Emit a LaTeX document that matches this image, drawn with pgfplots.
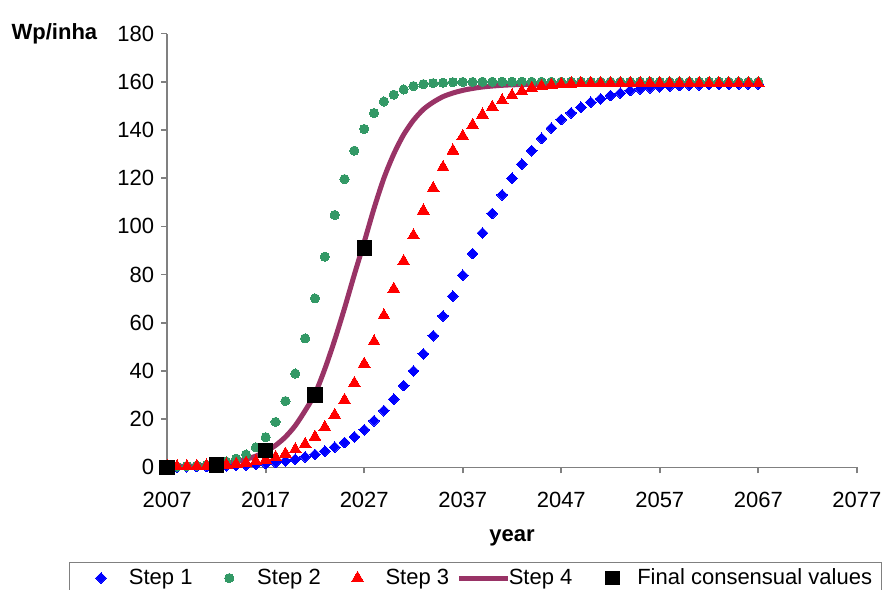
\documentclass[border=0pt]{standalone}
\usepackage{fontspec}
\setmainfont{Liberation Sans}
\usepackage{pgfplots}
\usepackage{pgfplotstable}
\pgfplotsset{compat=1.18}
\definecolor{sone}{RGB}{0,0,255}
\definecolor{stwo}{RGB}{51,153,102}
\definecolor{sthree}{RGB}{255,0,0}
\definecolor{sfour}{RGB}{153,51,102}
\definecolor{axgray}{RGB}{128,128,128}

\pgfplotstableread{
year s1 s2 s3 s4
2007 0.16 0.2 0.23 0.21
2008 0.2 0.3 0.3 0.29
2009 0.25 0.45 0.4 0.41
2010 0.32 0.7 0.5 0.59
2011 0.4 1.0 0.65 0.83
2012 0.5 1.6 0.85 1.18
2013 0.65 2.4 1.1 1.66
2014 0.8 3.6 1.4 2.35
2015 1.0 5.3 1.85 3.3
2016 1.3 8.3 2.4 4.66
2017 1.6 12.5 3.1 6.54
2018 2.05 18.8 4.2 9.1
2019 2.6 27.5 5.6 12.6
2020 3.3 38.9 7.4 17.3
2021 4.3 53.5 9.6 23.5
2022 5.3 70.1 12.6 30.5
2023 6.7 87.4 16.6 40.8
2024 8.4 104.7 21.7 52.8
2025 10.3 119.6 27.9 66.0
2026 12.6 131.4 34.9 80.0
2027 15.6 140.4 42.9 93.5
2028 19.3 147.0 52.2 107.5
2029 23.5 151.8 63.0 120
2030 28.3 154.6 74.0 130
2031 33.9 156.8 85.5 138
2032 40.0 158.2 96.2 144
2033 47.1 159.0 106.5 148.5
2034 54.6 159.4 115.8 151.5
2035 62.8 159.6 124.5 153.8
2036 71.0 159.8 131.4 155.3
2037 79.7 159.9 137.4 156.4
2038 88.7 159.9 142.0 157.2
2039 97.2 160 146.3 157.8
2040 105.3 160 149.5 158.2
2041 113.0 160 152.2 158.5
2042 119.9 160 154.3 158.7
2043 125.8 160 156.0 158.8
2044 131.4 160 157.4 158.9
2045 136.5 160 158.2 158.9
2046 140.7 160 158.7 159
2047 144.3 160 159.0 159
2048 147.1 160 159.2 159
2049 149.4 160 159.3 159
2050 151.5 160 159.3 159
2051 152.9 160 159.3 159
2052 154.3 160 159.3 159
2053 155.3 160 159.3 159
2054 156.3 160 159.3 159
2055 157.0 160 159.3 159
2056 157.5 160 159.3 159
2057 157.9 160 159.3 159
2058 158.2 160 159.3 159
2059 158.4 160 159.3 159
2060 158.6 160 159.3 159
2061 158.7 160 159.3 159
2062 158.8 160 159.3 159
2063 158.9 160 159.3 159
2064 158.9 160 159.3 159
2065 159.0 160 159.3 159
2066 159.0 160 159.3 159
2067 159.0 160 159.3 159
}\mydata

\pgfplotstableread{
year val
2007 0
2012 1
2017 7
2022 30
2027 91
}\consensus

\begin{document}
\begin{tikzpicture}
\path[use as bounding box] (0,0) rectangle (442.5pt,295pt);
\begin{axis}[
  at={(83.6pt,61.35pt)}, anchor=south west,
  scale only axis, width=344.8pt, height=216.9pt,
  xmin=2007, xmax=2077, ymin=0, ymax=180,
  xtick={2007,2017,...,2077}, ytick={0,20,...,180},
  axis lines*=left,
  axis line style={axgray, line width=0.8pt},
  tick align=outside, major tick length=3pt,
  tick style={axgray, line width=0.8pt},
  /pgf/number format/assume math mode=true,
  x tick label style={/pgf/number format/1000 sep={}, yshift=-6pt},
  tick label style={font=\fontsize{11}{13}\selectfont},
  clip=false,
  every axis y label/.style={at={(axis description cs:-0.1009,1)}, anchor=east, inner sep=0pt, font=\bfseries\fontsize{11}{13}\selectfont},
  every axis x label/.style={at={(axis description cs:0.5,-0.163)}, anchor=center, font=\bfseries\fontsize{11}{13}\selectfont},
  ylabel={Wp/inha}, xlabel={year},
  legend columns=-1,
  legend image code/.code={%
    \path[draw=none, fill=none] (-14.7pt,0pt) -- (10.3pt,0pt);
    \draw[#1] plot coordinates {(0pt,0pt)};},
  legend style={at={(axis description cs:-0.1424,-0.2183)}, anchor=north west,
    draw=axgray, line width=0.6pt, font=\fontsize{11}{13}\selectfont,
    inner xsep=1pt, inner ysep=2pt,
    nodes={inner ysep=1pt, inner xsep=3.67pt},
    /tikz/every even column/.append style={column sep=0pt}},
]
\addplot[only marks, mark=square*, mark options={rotate=45, fill=sone, draw=sone, line width=0pt}, mark size=1.9pt, color=sone] table[x=year, y=s1] {\mydata};
\addlegendentry{Step 1}
\addplot[only marks, mark=*, mark options={fill=stwo, draw=stwo, line width=0pt}, mark size=2.3pt, color=stwo] table[x=year, y=s2] {\mydata};
\addlegendentry{Step 2}
\addplot[only marks, mark=triangle*, mark options={fill=sthree, draw=sthree, line width=0pt}, mark size=3.4pt, color=sthree] table[x=year, y=s3] {\mydata};
\addlegendentry{Step 3}
\addplot[no marks, sfour, line width=2.5pt, smooth,
  legend image code/.code={%
    \path[draw=none, fill=none] (0pt,0pt) -- (22.5pt,0pt);
    \draw[overlay, sfour, line width=2.5pt] (1.3pt,0pt) -- (26pt,0pt);}] table[x=year, y=s4] {\mydata};
\addlegendentry{Step 4}
\addplot[only marks, mark=square*, mark options={fill=black, draw=black, line width=0pt}, mark size=3.6pt, color=black,
  legend image code/.code={%
    \path[draw=none, fill=none] (-16.3pt,0pt) -- (8.8pt,0pt);
    \fill[black, draw=none] (-3.6pt,-3.6pt) rectangle (3.6pt,3.6pt);}] table[x=year, y=val] {\consensus};
\addlegendentry{Final consensual values}
\end{axis}
\end{tikzpicture}
\end{document}
